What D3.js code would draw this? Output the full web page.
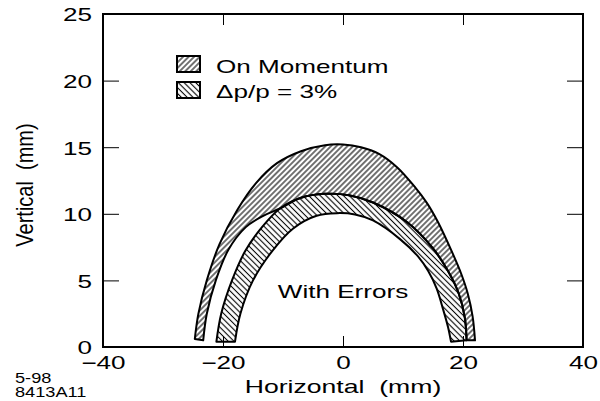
<!DOCTYPE html>
<html>
<head>
<meta charset="utf-8">
<script src="https://cdn.jsdelivr.net/npm/d3@7"></script>
<style>
  body { margin: 0; background: #fff; }
  text { font-family: "Liberation Sans", Arial, sans-serif; fill: #000; }
</style>
</head>
<body>
<script>
// axis ticks
var xTicks = [-40, -20, 0, 20, 40];
var yTicks = [0, 5, 10, 15, 20, 25];
var xInner = [-20, 0, 20];
var yInner = [5, 10, 15, 20];

// on momentum aperture, outer edge (mm)
var momentumOuter = [[-24.7,0.6],[-24.1,2.5],[-22.7,5],[-20.6,7.7],[-17.6,10.3],[-14.5,12.3],[-11,13.8],[-7,14.7],[-3,15.15],[0,15.2],[3,15.0],[6,14.5],[9,13.5],[12,12.0],[14,10.8],[15.8,9.4],[18.2,7.1],[19.7,5.5],[20.8,4.0],[21.6,2.3],[22,0.5]];
// on momentum inner edge on the left, until it meets the dp/p edge
var momentumInnerLeft = [[-23.3,0.5],[-22.7,2.5],[-21.2,5],[-19.1,7.3],[-16.2,9.0],[-13.3,9.85],[-10.5,10.4]];
// dp/p = 3% aperture
var deltaOuter = [[-21.1,0.4],[-20.3,2.5],[-18.5,5],[-16.3,7.2],[-13.5,9.0],[-10.5,10.4],[-7,11.2],[-3,11.5],[1,11.4],[5,10.85],[10.6,9.4],[15,7.4],[17.5,5.7],[19.3,4.0],[20.3,2.2],[20.6,0.5]];
var deltaInner = [[-18,0.4],[-17.1,2.5],[-15,5],[-11.8,7.2],[-8.3,8.9],[-4.4,9.85],[-1,10.05],[2,9.95],[5,9.5],[9.5,8.1],[12.5,6.8],[14.2,5.7],[15.6,4.4],[16.7,2.8],[17.5,1.5],[18,0.4]];

var legendLabels = ["On Momentum", "\u0394p/p = 3%"];

var width = 600, height = 401;
var stretch = 1.45;

var svg = d3.select("body").append("svg")
    .attr("width", width)
    .attr("height", height);

var x = d3.scaleLinear().domain([-40, 40]).range([103, 583]);
var y = d3.scaleLinear().domain([0, 25]).range([347, 14]);

// hatch patterns
var defs = svg.append("defs");
function hatch(id, angle, gap) {
    defs.append("pattern")
        .attr("id", id)
        .attr("patternUnits", "userSpaceOnUse")
        .attr("width", gap).attr("height", gap)
        .attr("patternTransform", "rotate(" + angle + ")")
        .append("line")
        .attr("x1", gap / 2).attr("y1", 0).attr("x2", gap / 2).attr("y2", gap)
        .attr("stroke", "#000").attr("stroke-width", 1.1);
}
hatch("fwd", 45, 3.9);
hatch("back", -45, 4.1);

var line = d3.line()
    .x(d => x(d[0]))
    .y(d => y(d[1]))
    .curve(d3.curveCatmullRom);

function band(outer, inner) {
    var a = line(outer);
    var b = line(inner.slice().reverse());
    return a + "L" + b.slice(1) + "Z";
}

var joinX = momentumInnerLeft[momentumInnerLeft.length - 1][0];
var momentumInner = momentumInnerLeft.concat(deltaOuter.filter(d => d[0] > joinX));

svg.append("path")
    .attr("d", band(momentumOuter, momentumInner))
    .attr("fill", "url(#fwd)")
    .attr("stroke", "#000")
    .attr("stroke-width", 2)
    .attr("stroke-linejoin", "round");

svg.append("path")
    .attr("d", band(deltaOuter, deltaInner))
    .attr("fill", "url(#back)")
    .attr("stroke", "#000")
    .attr("stroke-width", 2)
    .attr("stroke-linejoin", "round");

// axes
var bottom = svg.append("g")
    .attr("transform", "translate(0," + y(0) + ")")
    .call(d3.axisBottom(x).tickValues(xTicks).tickSize(-11).tickPadding(9.5));
var left = svg.append("g")
    .attr("transform", "translate(" + x(-40) + ",0)")
    .call(d3.axisLeft(y).tickValues(yTicks).tickSize(-16).tickPadding(7.6));
svg.append("g")
    .attr("transform", "translate(0," + y(25) + ")")
    .call(d3.axisTop(x).tickValues(xInner).tickSize(-11).tickFormat(""));
svg.append("g")
    .attr("transform", "translate(" + x(40) + ",0)")
    .call(d3.axisRight(y).tickValues(yInner).tickSize(-16).tickFormat(""));

svg.selectAll(".domain").remove();
svg.selectAll(".tick line").attr("stroke", "#000");
[bottom, left].forEach(g => {
    g.attr("font-size", 18).attr("font-family", null);
    g.selectAll("text").attr("transform", "scale(" + stretch + ",1)");
});
left.selectAll("text").attr("dy", "0.38em");

svg.append("rect")
    .attr("x", x(-40)).attr("y", y(25))
    .attr("width", x(40) - x(-40))
    .attr("height", y(0) - y(25))
    .attr("fill", "none")
    .attr("stroke", "#000")
    .attr("stroke-width", 2);

// stretched text helper
function label(px, py, txt, size, anchor, sx) {
    var g = svg.append("g")
        .attr("transform", "translate(" + px + "," + py + ") scale(" + (sx || stretch) + ",1)");
    return g.append("text")
        .attr("text-anchor", anchor)
        .attr("font-size", size)
        .style("white-space", "pre")
        .text(txt);
}

label(x(0), 393, "Horizontal  (mm)", 19, "middle", 1.4);
label(x(0), 298, "With Errors", 18, "middle");
label(15, 382.7, "5-98", 14, "start", 1.3);
label(15, 396.7, "8413A11", 14, "start", 1.3);

svg.append("g")
    .attr("transform", "translate(33,185) scale(1.2,1) rotate(-90)")
    .append("text")
    .attr("text-anchor", "middle")
    .attr("font-size", 20)
    .style("white-space", "pre")
    .text("Vertical  (mm)");

// legend
var legend = svg.append("g");
legend.selectAll("rect")
    .data(legendLabels)
    .enter().append("rect")
    .attr("x", 177)
    .attr("y", (d, i) => 56 + i * 26)
    .attr("width", 23)
    .attr("height", 16)
    .attr("fill", (d, i) => i == 0 ? "url(#fwd)" : "url(#back)")
    .attr("stroke", "#000")
    .attr("stroke-width", 2);
legendLabels.forEach((d, i) => label(216, 72.5 + i * 25.5, d, 18, "start"));
</script>
</body>
</html>
